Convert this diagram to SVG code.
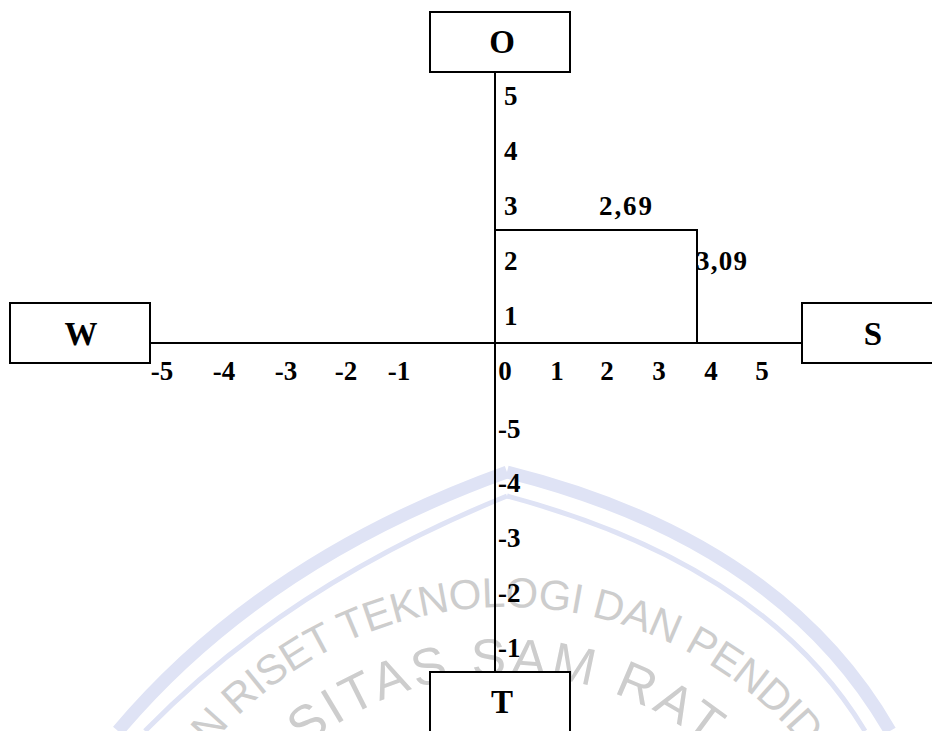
<svg xmlns="http://www.w3.org/2000/svg" width="932" height="731" viewBox="0 0 932 731">
  <style>
    .box { fill: #ffffff; stroke: #000000; stroke-width: 2; }
    .line { fill: none; stroke: #000000; stroke-width: 2; }
    .lbl { font-family: "Liberation Serif", "Times New Roman", serif; font-weight: bold; font-size: 27px; fill: #000000; }
    .big { font-family: "Liberation Serif", "Times New Roman", serif; font-weight: bold; font-size: 33px; fill: #000000; text-anchor: middle; }
    .wm { font-family: "Liberation Sans", Arial, sans-serif; fill: #cdcdcd; }
    .band { fill: none; stroke: #dfe3f5; }
  </style>
  <defs>
    <path id="arcOuter" d="M 121 993 A 386 386 0 0 1 893 993"/>
    <path id="arcInner" d="M 189 993 A 318 318 0 0 1 825 993"/>
  </defs>
  <rect width="932" height="731" fill="#ffffff"/>

  <g id="watermark">
    <path class="band" stroke-width="13" d="M 118 731 Q 262 560 507 472"/>
    <path class="band" stroke-width="13" d="M 507 472 Q 780 540 890 731"/>
    <path class="band" stroke-width="5" d="M 145 731 Q 287 585 507 496"/>
    <path class="band" stroke-width="5" d="M 507 496 Q 765 565 865 731"/>
    <text class="wm" font-size="42" letter-spacing="-0.5" text-anchor="middle"><textPath href="#arcOuter" startOffset="50%">N RISET TEKNOLOGI DAN PENDID</textPath></text>
    <text class="wm" font-size="52" letter-spacing="4" text-anchor="middle"><textPath href="#arcInner" startOffset="50%">SITAS SAM RAT</textPath></text>
  </g>

  <g id="connectors">
    <line class="line" x1="495" y1="72" x2="495" y2="672"/>
    <line class="line" x1="150" y1="343" x2="802" y2="343"/>
    <polyline class="line" points="495,230 697,230 697,343"/>
  </g>

  <g id="node-O">
    <rect class="box" x="430" y="12" width="140" height="60"/>
    <text class="big" x="502" y="53">O</text>
  </g>
  <g id="node-W">
    <rect class="box" x="10" y="303" width="140" height="60"/>
    <text class="big" x="81" y="345">W</text>
  </g>
  <g id="node-S">
    <rect class="box" x="802" y="303" width="140" height="60"/>
    <text class="big" x="873" y="345">S</text>
  </g>
  <g id="node-T">
    <rect class="box" x="430" y="672" width="140" height="60"/>
    <text class="big" x="502" y="713">T</text>
  </g>

  <g id="labels-y-pos">
    <text class="lbl" x="504" y="105">5</text>
    <text class="lbl" x="504" y="160">4</text>
    <text class="lbl" x="504" y="215">3</text>
    <text class="lbl" x="504" y="270">2</text>
    <text class="lbl" x="504" y="325">1</text>
  </g>
  <g id="labels-y-neg">
    <text class="lbl" x="498" y="438">-5</text>
    <text class="lbl" x="498" y="492">-4</text>
    <text class="lbl" x="498" y="547">-3</text>
    <text class="lbl" x="498" y="602">-2</text>
    <text class="lbl" x="498" y="657">-1</text>
  </g>
  <g id="labels-x" text-anchor="middle">
    <text class="lbl" x="162" y="380">-5</text>
    <text class="lbl" x="224" y="380">-4</text>
    <text class="lbl" x="286" y="380">-3</text>
    <text class="lbl" x="346" y="380">-2</text>
    <text class="lbl" x="399" y="380">-1</text>
    <text class="lbl" x="505" y="380">0</text>
    <text class="lbl" x="557" y="380">1</text>
    <text class="lbl" x="607" y="380">2</text>
    <text class="lbl" x="659" y="380">3</text>
    <text class="lbl" x="711" y="380">4</text>
    <text class="lbl" x="762" y="380">5</text>
  </g>
  <g id="values">
    <text class="lbl" x="599" y="215" textLength="53">2,69</text>
    <text class="lbl" x="696" y="270" textLength="51">3,09</text>
  </g>
</svg>
